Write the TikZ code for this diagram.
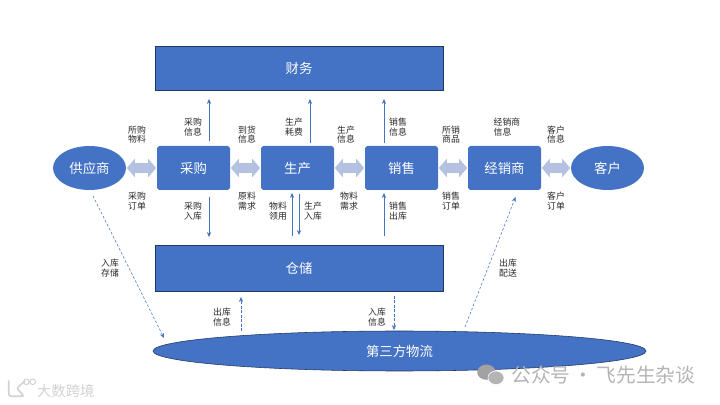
\documentclass[tikz,border=0pt]{standalone}
\usepackage{fontspec}
\setmainfont{Noto Sans CJK SC}
\usetikzlibrary{arrows.meta, positioning, shapes.geometric}
\definecolor{boxblue}{HTML}{4472C4}
\definecolor{boxline}{HTML}{1F3864}
\definecolor{fatblue}{HTML}{B4C1E1}
\definecolor{markgray}{HTML}{B4B4B4}

\begin{document}
\begin{tikzpicture}[
    dept/.style={fill=boxblue, text=white, rounded corners=2pt, inner sep=0pt, outer sep=0pt,
                 minimum width=1.825cm, minimum height=1.1cm, font=\fontsize{9.5}{11}\selectfont},
    party/.style={dept, ellipse, rounded corners=0pt},
    wide/.style={dept, draw=boxline, rounded corners=0pt, minimum width=7.2cm},
    lbl/.style={align=center, inner sep=0pt, text=black!85, font=\fontsize{6.3}{6.8}\selectfont},
    fat/.style={{Triangle[length=0.2cm, width=0.45cm]}-{Triangle[length=0.2cm, width=0.45cm]},
                line width=0.25cm, fatblue, shorten <=0.02cm, shorten >=0.02cm},
    info/.style={-{Stealth[length=3.5pt, width=3pt]}, boxblue, line width=0.5pt},
    infodash/.style={info, line width=0.4pt, dash pattern=on 1.8pt off 1.4pt}
]
\useasboundingbox (0,0) rectangle (18,10.125);

% ---- MIDDLE ROW ----
\node[party]                   (supplier) at (2.2375,5.925) {供应商};
\node[dept, right=0.775 of supplier] (purchase) {采购};
\node[dept, right=0.775 of purchase] (produce)  {生产};
\node[dept, right=0.775 of produce]  (sales)    {销售};
\node[dept, right=0.75 of sales]     (dealer)   {经销商};
\node[party, right=0.75 of dealer]   (customer) {客户};

\draw[fat] (supplier) -- (purchase);
\draw[fat] (purchase) -- (produce);
\draw[fat] (produce)  -- (sales);
\draw[fat] (sales)    -- (dealer);
\draw[fat] (dealer)   -- (customer);

% ---- TOP AND BOTTOM ----
\node[wide]                       (finance)  at (7.475,8.425) {财务};
\node[wide, minimum height=1.15cm] (storage)  at (7.475,3.425) {仓储};
\node[party, draw=boxline, minimum width=12.325cm, minimum height=1cm]
                                  (logistics) at (9.9875,1.35) {第三方物流};

% ---- Solid arrows ----
\draw[info] ([xshift=0.3875cm, yshift=0.125cm]purchase.north)
    -- ([xshift=0.3875cm, yshift=-0.225cm]purchase.north |- finance.south);
\draw[info] ([xshift=0.3125cm, yshift=0.075cm]produce.north)
    -- ([xshift=0.3125cm, yshift=-0.225cm]produce.north |- finance.south);
\draw[info] ([xshift=-0.4375cm, yshift=0.075cm]sales.north)
    -- ([xshift=-0.4375cm, yshift=-0.225cm]sales.north |- finance.south);
\draw[info] ([xshift=0.3875cm, yshift=-0.175cm]purchase.south)
    -- ([xshift=0.3875cm, yshift=0.2cm]purchase.south |- storage.north);
\draw[info] ([xshift=-0.1375cm, yshift=0.225cm]produce.south |- storage.north)
    -- ([xshift=-0.1375cm, yshift=-0.075cm]produce.south);
\draw[info] ([xshift=0.0375cm, yshift=-0.1cm]produce.south)
    -- ([xshift=0.0375cm, yshift=0.25cm]produce.south |- storage.north);
\draw[info] ([xshift=-0.4375cm, yshift=0.225cm]sales.south |- storage.north)
    -- ([xshift=-0.4375cm, yshift=-0.075cm]sales.south);

% ---- Dashed arrows ----
\draw[infodash] ([xshift=0.0875cm, yshift=-0.15cm]supplier.south)
    -- ([xshift=0.275cm, yshift=0.325cm]logistics.west);
\draw[infodash] ([xshift=-1.45cm]storage.south |- logistics.north)
    -- ([xshift=-1.45cm, yshift=-0.15cm]storage.south);
\draw[infodash] ([xshift=2.375cm, yshift=-0.125cm]storage.south)
    -- ([xshift=2.375cm, yshift=0.025cm]storage.south |- logistics.north);
\draw[infodash] ([xshift=1.6375cm, yshift=0.1cm]logistics.north)
    -- ([xshift=0.275cm, yshift=-0.175cm]dealer.south);

% ---- Labels above the row ----
\node[lbl] (l_sg) at (3.425,6.7625)  {所购\\物料};
\node[lbl] (l_cx) at (4.825,6.95)    {采购\\信息};
\node[lbl] (l_dh) at (6.175,6.7625)  {到货\\信息};
\node[lbl] (l_sh) at (7.35,6.95)     {生产\\耗费};
\node[lbl] (l_sx) at (8.65,6.7625)   {生产\\信息};
\node[lbl] (l_xx) at (9.95,6.95)     {销售\\信息};
\node[lbl] (l_sp) at (11.275,6.7625) {所销\\商品};
\node[lbl, align=left] (l_jx) at (12.675,6.95) {经销商\\信息};
\node[lbl] (l_kx) at (13.9,6.7625)   {客户\\信息};

% ---- Labels below the row ----
\node[lbl] (l_cd) at (3.425,5.1)   {采购\\订单};
\node[lbl] (l_cr) at (4.825,4.85)  {采购\\入库};
\node[lbl] (l_yx) at (6.175,5.1)   {原料\\需求};
\node[lbl] (l_wl) at (6.95,4.85)   {物料\\领用};
\node[lbl] (l_sr) at (7.825,4.85)  {生产\\入库};
\node[lbl] (l_wx) at (8.725,5.1)   {物料\\需求};
\node[lbl] (l_xc) at (9.95,4.85)   {销售\\出库};
\node[lbl] (l_xd) at (11.275,5.1)  {销售\\订单};
\node[lbl] (l_kd) at (13.9,5.1)    {客户\\订单};

% ---- Labels at the dashed arrows ----
\node[lbl] (l_rc) at (2.75,3.425) {入库\\存储};
\node[lbl] (l_cc) at (5.55,2.2)   {出库\\信息};
\node[lbl] (l_rx) at (9.425,2.2)  {入库\\信息};
\node[lbl] (l_ps) at (12.7,3.425) {出库\\配送};

% ---- Watermarks ----
\fill[markgray!90!black] (12.16,0.82) ellipse (0.23 and 0.19);
\fill[markgray, draw=white, line width=0.4pt] (12.4,0.68) ellipse (0.2 and 0.17);
\node[text=markgray, font=\fontsize{14}{16}\selectfont, anchor=west, inner sep=0pt]
    (mark_r) at (12.78,0.75) {公众号\,·\,飞先生杂谈};
\node[text=markgray!60, font=\fontsize{10.2}{12}\selectfont, anchor=west, inner sep=0pt]
    (mark_l) at (0.92,0.35) {大数跨境};
\draw[markgray!60, line width=1.2pt, line cap=round, rounded corners=1.5pt]
    (0.22,0.6) -- (0.22,0.22) -- (0.6,0.22) -- (0.42,0.42) -- (0.62,0.6);
\draw[markgray!60, line width=0.7pt] (0.66,0.58) circle (0.07) (0.82,0.58) circle (0.07);

\end{tikzpicture}
\end{document}
